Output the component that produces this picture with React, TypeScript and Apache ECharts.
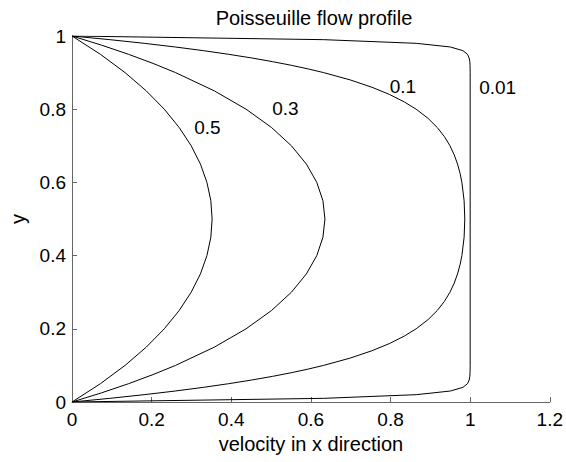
import React, { useEffect, useRef } from "react";
import * as echarts from "echarts";

// y positions (channel height) and velocity values read for each profile
const y05 = [0, 0.05, 0.1, 0.15, 0.2, 0.25, 0.3, 0.35, 0.4, 0.45, 0.5, 0.55, 0.6, 0.65, 0.7, 0.75, 0.8, 0.85, 0.9, 0.95, 1];
const u05 = [0, 0.0713, 0.1333, 0.1866, 0.2318, 0.2692, 0.2994, 0.3226, 0.3389, 0.3487, 0.3519, 0.3487, 0.3389, 0.3226, 0.2994, 0.2692, 0.2318, 0.1866, 0.1333, 0.0713, 0];

const y03 = [0, 0.025, 0.05, 0.075, 0.1, 0.15, 0.2, 0.25, 0.3, 0.35, 0.4, 0.45, 0.5, 0.55, 0.6, 0.65, 0.7, 0.75, 0.8, 0.85, 0.9, 0.925, 0.95, 0.975, 1];
const u03 = [0, 0.0742, 0.142, 0.2037, 0.2601, 0.3576, 0.4372, 0.5011, 0.5512, 0.5887, 0.6148, 0.6302, 0.6353, 0.6302, 0.6148, 0.5887, 0.5512, 0.5011, 0.4372, 0.3576, 0.2601, 0.2037, 0.142, 0.0742, 0];

const y01 = [0, 0.01, 0.02, 0.03, 0.04, 0.05, 0.06, 0.07, 0.08, 0.09, 0.1, 0.12, 0.14, 0.16, 0.18, 0.2, 0.225, 0.25, 0.275, 0.3, 0.325, 0.35, 0.375, 0.4, 0.45, 0.5,
  0.55, 0.6, 0.625, 0.65, 0.675, 0.7, 0.725, 0.75, 0.775, 0.8, 0.82, 0.84, 0.86, 0.88, 0.9, 0.91, 0.92, 0.93, 0.94, 0.95, 0.96, 0.97, 0.98, 0.99, 1];
const u01 = [0, 0.0951, 0.1812, 0.2592, 0.3296, 0.3934, 0.4511, 0.5033, 0.5506, 0.5933, 0.632, 0.6987, 0.7532, 0.7979, 0.8344, 0.8643, 0.8942, 0.9174, 0.9354, 0.9493, 0.9601, 0.9683, 0.9746, 0.9792, 0.9848, 0.9865,
  0.9848, 0.9792, 0.9746, 0.9683, 0.9601, 0.9493, 0.9354, 0.9174, 0.8942, 0.8643, 0.8344, 0.7979, 0.7532, 0.6987, 0.632, 0.5933, 0.5506, 0.5033, 0.4511, 0.3934, 0.3296, 0.2592, 0.1812, 0.0951, 0];

const y001 = [0, 0.01, 0.02, 0.03, 0.04, 0.05, 0.06, 0.07, 0.08, 0.09, 0.1, 0.5, 0.9, 0.91, 0.92, 0.93, 0.94, 0.95, 0.96, 0.97, 0.98, 0.99, 1];
const u001 = [0, 0.6321, 0.8647, 0.9502, 0.9817, 0.9933, 0.9975, 0.9991, 0.9997, 0.9999, 1.0, 1.0, 1.0, 0.9999, 0.9997, 0.9991, 0.9975, 0.9933, 0.9817, 0.9502, 0.8647, 0.6321, 0];

// curve annotations: text and anchor (data coordinates)
const labelTexts = ["0.5", "0.3", "0.1", "0.01"];
const labelX = [0.34, 0.536, 0.831, 1.069];
const labelY = [0.749, 0.803, 0.861, 0.858];

const FONT = "'Liberation Sans', Arial, Helvetica, sans-serif";

const pair = (us: number[], ys: number[]) => us.map((u, i) => [u, ys[i]]);

export default function App() {
  const ref = useRef<HTMLDivElement>(null);
  useEffect(() => {
    if (!ref.current) return;
    const chart = echarts.init(ref.current, undefined, { renderer: "svg" });
    const lineSeries = (data: number[][]) => ({
      type: "line",
      data,
      showSymbol: false,
      symbol: "none",
      lineStyle: { color: "#000", width: 1 },
      silent: true,
    });
    const axisCommon = {
      type: "value",
      min: 0,
      interval: 0.2,
      splitLine: { show: false },
      axisLine: { show: true, lineStyle: { color: "#666", width: 1 } },
      axisTick: { show: true, inside: true, length: 5, lineStyle: { color: "#666" } },
      axisLabel: { color: "#000", fontSize: 19, fontFamily: FONT },
      nameLocation: "middle",
      nameTextStyle: { color: "#000", fontSize: 20, fontFamily: FONT },
    };
    chart.setOption({
      animation: false,
      backgroundColor: "#fff",
      title: {
        text: "Poisseuille flow profile",
        left: 309,
        textAlign: "center",
        top: 3,
        textStyle: { color: "#000", fontSize: 20, fontWeight: "normal", fontFamily: FONT },
      },
      grid: { left: 67, right: 15, top: 36, bottom: 60, containLabel: false },
      xAxis: {
        ...axisCommon,
        max: 1.2,
        name: "velocity in x direction",
        nameGap: 31,
        axisLabel: { ...axisCommon.axisLabel, margin: 8 },
      },
      yAxis: {
        ...axisCommon,
        max: 1,
        name: "y",
        nameGap: 44,
        axisLabel: { ...axisCommon.axisLabel, margin: 6 },
      },
      series: [
        lineSeries(pair(u05, y05)),
        lineSeries(pair(u03, y03)),
        lineSeries(pair(u01, y01)),
        lineSeries(pair(u001, y001)),
        {
          type: "scatter",
          symbolSize: 0,
          itemStyle: { color: "#000", opacity: 1 },
          silent: true,
          data: labelTexts.map((t, i) => ({ value: [labelX[i], labelY[i]], name: t })),
          label: {
            show: true,
            position: "inside",
            formatter: (p: any) => p.name,
            color: "#000",
            opacity: 1,
            textBorderWidth: 0,
            fontSize: 19,
            fontFamily: FONT,
          },
        },
      ],
    });
    return () => chart.dispose();
  }, []);
  return <div ref={ref} style={{ width: 566, height: 462, position: "fixed", left: 0, top: 0 }} />;
}
